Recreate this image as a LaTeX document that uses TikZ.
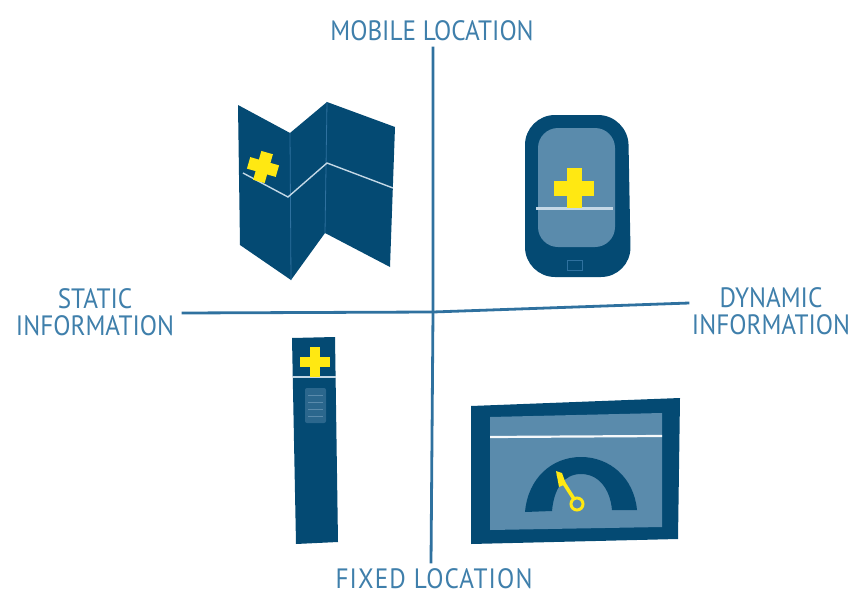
\documentclass[tikz,border=0pt]{standalone}
\usepackage{fontspec}
\setmainfont[FakeStretch=0.9]{PT Sans}
\usetikzlibrary{positioning}
\definecolor{cnavy}{HTML}{044A73}
\definecolor{cscreen}{HTML}{5A8BAC}
\definecolor{caxis}{HTML}{2F719F}
\definecolor{clabel}{HTML}{3F7FAB}
\definecolor{cmark}{HTML}{FFE812}
\definecolor{cpale}{HTML}{C4D8E6}
\tikzset{
  every picture/.style={line width=1.2pt},
  axislabel/.style={text=clabel, font=\fontsize{28}{27}\selectfont, align=center, inner sep=1pt},
  axisline/.style={draw=caxis, line width=2.8pt},
  body/.style={fill=cnavy, draw=none},
  screen/.style={fill=cscreen, draw=none},
  foldline/.style={draw=cpale, line width=1.4pt},
  crossmark/.style={fill=cmark, draw=none},
  crease/.style={draw=caxis, line width=0.8pt},
}
% plus sign centred on the origin of the scope, #1 = half width of a bar, #2 = half length
\newcommand{\plusmark}[2]{
  \fill[crossmark] (-#1,-#2) rectangle (#1,#2);
  \fill[crossmark] (-#2,-#1) rectangle (#2,#1);
}
\begin{document}
\begin{tikzpicture}[x=1pt, y=-1pt]
  \useasboundingbox (0,0) rectangle (851,597);
  % axis labels
  \node[axislabel] (mobile) at (432,31) {MOBILE LOCATION};
  \node[axislabel] (fixed) at (434,579) {\addfontfeature{LetterSpace=4}FIXED LOCATION};
  \node[axislabel] (static) at (95,312) {STATIC\\INFORMATION};
  \node[axislabel] (dynamic) at (771,311) {DYNAMIC\\INFORMATION};
  \coordinate (centre) at (433,312);
  % axes
  \draw[axisline] ([xshift=1,yshift=-4]mobile.south) -- (centre) -- ([xshift=-3,yshift=4]fixed.north);
  \draw[axisline] ([xshift=6,yshift=-1]static.east) -- (centre) -- ([xshift=-1,yshift=8]dynamic.west);
  % map
  \fill[body] (238,105) -- (290,133) -- (327,102) -- (395,127) -- (390,267) -- (325,233)
    -- (291,280) -- (240,245) -- cycle;
  \draw[crease] (290,133) -- (291,280);
  \draw[crease] (327,102) -- (325,233);
  \draw[foldline] (243,173) -- (288,197) -- (327,163) -- (393,188);
  \begin{scope}[shift={(263,167)}, rotate=-16]
    \plusmark{6}{15}
  \end{scope}
  % phone
  \fill[body, rounded corners=30pt] (525,115) -- (628,115) -- (631,277) -- (525,277) -- cycle;
  \fill[screen, rounded corners=20pt] (538,128) -- (615,128) -- (615,247) -- (538,247) -- cycle;
  \draw[foldline, line width=3pt] (536,208) -- (613,208);
  \begin{scope}[shift={(574,188)}]
    \plusmark{7.5}{20}
  \end{scope}
  \draw[crease] (567,260) rectangle (582,270);
  % kiosk
  \fill[body] (292,338) -- (335,337) -- (338,542) -- (296,544) -- cycle;
  \draw[foldline] (293,377) -- (336,377);
  \begin{scope}[shift={(315,362)}]
    \plusmark{5}{15}
  \end{scope}
  \fill[cscreen!45!cnavy, rounded corners=2pt] (305,388) rectangle (326,423);
  \foreach \y in {395,402,409,416}
    \draw[crease, draw=cscreen] (308,\y) -- (323,\y);
  % wall screen
  \fill[body] (471,406) -- (680,398) -- (678,539) -- (471,544) -- cycle;
  \fill[screen] (490,417) -- (662,413) -- (662,527) -- (490,530) -- cycle;
  \draw[foldline, line width=2.2pt, draw=white!85!cpale] (490,437) -- (662,436);
  % gauge
  \fill[body] (525,512) .. controls (528,478) and (552,457) .. (581,457)
    .. controls (610,457) and (634,478) .. (637,510) -- (612,510)
    .. controls (610,488) and (598,474) .. (581,474)
    .. controls (564,474) and (554,488) .. (552,511) -- cycle;
  \draw[draw=cmark, line width=3.6pt] (558,474) -- (574,499);
  \fill[crossmark] (556,471) -- (562,473) -- (566,484) -- (559,487) -- cycle;
  \draw[draw=cmark, line width=3pt] (577,504) circle (6);
\end{tikzpicture}
\end{document}
